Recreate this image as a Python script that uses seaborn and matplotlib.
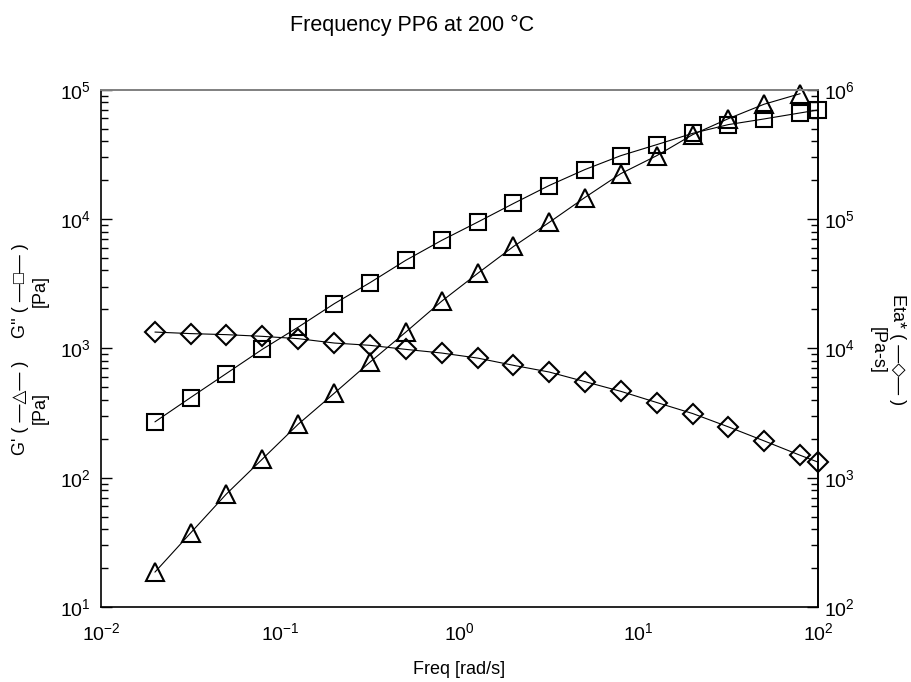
# Import libraries
import numpy as np
import pandas as pd
import seaborn as sns
import matplotlib.pyplot as plt

# -----------------------------
# Data
# -----------------------------
freq = [0.02, 0.0316, 0.05, 0.0794, 0.126, 0.2, 0.316, 0.5, 0.794, 1.26,
        2.0, 3.16, 5.0, 7.94, 12.6, 20.0, 31.6, 50.0, 79.4, 100.0]

# G' storage modulus [Pa] (last point is off the top of the plot)
g_storage = [18.6, 37.3, 74.6, 139, 259, 449, 780, 1330, 2310, 3790,
             6130, 9400, 14660, 22440, 30900, 44950, 59700, 77200, 93100, np.nan]

# G'' loss modulus [Pa]
g_loss = [270, 416, 638, 982, 1459, 2213, 3213, 4782, 6826, 9450,
          13180, 18150, 24100, 30900, 37600, 46000, 53700, 59400, 66100, 69700]

# Eta* complex viscosity [Pa-s]
eta = [13360, 13000, 12760, 12380, 11880, 10990, 10550, 9820, 9200, 8410,
       7390, 6560, 5530, 4650, 3810, 3130, 2470, 1925, 1490, 1318]

df = pd.DataFrame({"Freq": freq, "Gp": g_storage, "Gpp": g_loss, "Eta": eta})

# -----------------------------
# Style
# -----------------------------
sns.set_style("white")
plt.rcParams["font.family"] = ["Liberation Sans", "DejaVu Sans"]
plt.rcParams["mathtext.default"] = "regular"
for key in ["text.color", "axes.labelcolor", "xtick.color", "ytick.color"]:
    plt.rcParams[key] = "black"

fig = plt.figure(figsize=(9.12, 6.82), dpi=100)
ax = fig.add_axes([0.1107, 0.110, 0.7863, 0.7585])
ax2 = ax.twinx()

line_kw = dict(color="black", linewidth=0.8, markerfacecolor="none",
               markeredgecolor="black", markeredgewidth=1.5,
               estimator=None, errorbar=None, clip_on=False)

# -----------------------------
# Curves
# -----------------------------
sns.lineplot(data=df, x="Freq", y="Gp", marker="^", markersize=13.5, ax=ax, **line_kw)
sns.lineplot(data=df, x="Freq", y="Gpp", marker="s", markersize=11.5, ax=ax, **line_kw)
sns.lineplot(data=df, x="Freq", y="Eta", marker="D", markersize=10, ax=ax2, **line_kw)

for a in (ax, ax2):
    a.set_xscale("log")
    a.set_yscale("log")
    a.set_xlim(1e-2, 1e2)
    a.set_ylabel("")
ax.set_ylim(10, 1e5)
ax2.set_ylim(1e2, 1e6)

# -----------------------------
# Axes, ticks, spines
# -----------------------------
ax.tick_params(which="both", direction="in", top=False, right=False,
               labelsize=14, color="black")
ax.tick_params(which="major", length=8, width=1)
ax.tick_params(which="minor", length=5, width=1)
ax.tick_params(axis="x", which="both", pad=11)
ax.tick_params(axis="y", which="both", pad=7)
ax2.tick_params(which="both", direction="in", labelsize=14, pad=4, color="black")
ax2.tick_params(which="major", length=8, width=1)
ax2.tick_params(which="minor", length=5, width=1)

for a in (ax, ax2):
    for s in a.spines.values():
        s.set_color("black")
        s.set_linewidth(1.2)
    a.spines["top"].set_color("#808080")
ax2.spines["left"].set_visible(False)
ax2.spines["bottom"].set_visible(False)

ax.set_xlabel("Freq [rad/s]", fontsize=13, labelpad=12)

# -----------------------------
# Labels and title
# -----------------------------
fig.text(0.452, 0.962, "Frequency PP6 at 200 °C", ha="center", va="center", fontsize=15.5)
fig.text(0.033, 1 - 408 / 682, "G' ( —△— )\n[Pa]", rotation=90,
         ha="center", va="center", fontsize=13, multialignment="center")
fig.text(0.033, 1 - 291 / 682, "G'' ( —□— )\n[Pa]", rotation=90,
         ha="center", va="center", fontsize=13, multialignment="center")
fig.text(0.973, 1 - 350 / 682, "Eta* ( —◇— )\n[Pa-s]", rotation=-90,
         ha="center", va="center", fontsize=13, multialignment="center")

plt.savefig("out.png", dpi=100)
